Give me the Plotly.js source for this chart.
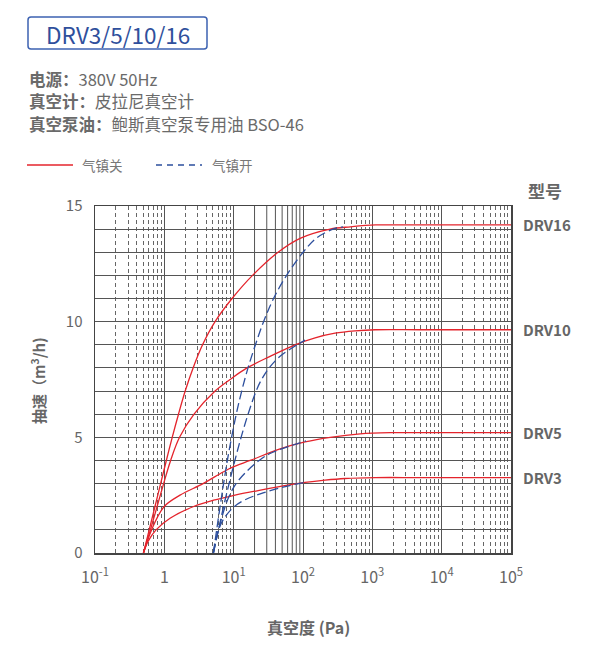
<!DOCTYPE html>
<html>
<head>
<meta charset="utf-8">
<script src="https://cdn.plot.ly/plotly-3.0.1.min.js"></script>
<style>
  html, body { margin: 0; padding: 0; background: #fff; }
  #chart { width: 614px; height: 651px; }
</style>
</head>
<body>
<div id="chart"></div>
<script>
// ---- Data ----
const models = ["DRV16", "DRV10", "DRV5", "DRV3"];

// Gas ballast closed (气镇关) – solid red   (pressure Pa, pumping speed m3/h)
const p16Closed = [0.5, 0.605, 0.732, 0.884, 1.069, 1.30, 1.60, 2.00, 2.60, 3.56, 5.39, 9.48, 18.7, 43.7, 90.8, 246, 483, 1110, 5000, 100000];
const s16Closed = [0, 1, 2, 3, 4, 5, 6, 7, 8, 9, 10, 11, 12, 13, 13.6, 14, 14.1, 14.18, 14.18, 14.18];
const p10Closed = [0.5, 0.63, 0.785, 0.977, 1.233, 1.657, 2.683, 5.39, 8.87, 15.6, 33.5, 76.9, 149.6, 290, 565, 1099, 5000, 100000];
const s10Closed = [0, 1, 2, 3, 4, 5, 6, 7, 7.5, 8, 8.5, 9, 9.3, 9.5, 9.6, 9.65, 9.65, 9.65];
const p5Closed = [0.5, 0.654, 0.99, 1.685, 3.62, 7.03, 9.48, 17.3, 46.8, 107, 247, 668, 1811, 8000, 100000];
const s5Closed = [0, 1, 2, 2.5, 3, 3.5, 3.7, 4, 4.5, 4.8, 5.0, 5.15, 5.2, 5.2, 5.2];
const p3Closed = [0.5, 0.582, 0.759, 1.209, 2.595, 5.39, 10.47, 22.5, 51.6, 107, 208, 405, 1099, 5000, 100000];
const s3Closed = [0, 0.5, 1, 1.5, 2, 2.3, 2.5, 2.7, 2.9, 3.05, 3.15, 3.22, 3.26, 3.26, 3.26];

// Gas ballast open (气镇开) – dashed blue
const p16Open = [5.1, 5.685, 6.366, 7.152, 8.11, 9.33, 10.9, 13.05, 16.1, 20.6, 27.0, 37.6, 58.0, 100.3, 154.5, 272, 379];
const s16Open = [0, 1, 2, 3, 4, 5, 6, 7, 8, 9, 10, 11, 12, 13, 13.6, 14, 14.1];
const p10Open = [5.1, 6.015, 7.152, 8.58, 10.41, 12.79, 16.13, 21.05, 25.27, 32.4, 46.7, 82.2, 107.2];
const s10Open = [0, 1, 2, 3, 4, 5, 6, 7, 7.5, 8, 8.5, 9, 9.2];
const p5Open = [5.1, 6.055, 7.515, 8.73, 10.83, 15.1, 23.3, 33.5, 61.0, 110.8];
const s5Open = [0, 1, 2, 2.5, 3, 3.5, 4, 4.3, 4.6, 4.85];
const p3Open = [5.1, 5.48, 6.055, 7.27, 10.13, 14.6, 26.6, 51.6, 103.7];
const s3Open = [0, 0.5, 1, 1.5, 2, 2.3, 2.6, 2.85, 3.05];

const plateaus = [14.18, 9.65, 5.2, 3.26];

// Axis ticks
const decadeVals = [0.1, 1, 10, 100, 1000, 10000, 100000];
const decadeText = ["10<sup>-1</sup>", "1", "10<sup>1</sup>", "10<sup>2</sup>", "10<sup>3</sup>", "10<sup>4</sup>", "10<sup>5</sup>"];
const yTickVals = [0, 5, 10, 15];

// minor grid: 2..9 multiples; solid in the 10–100 decade, dashed elsewhere
const solidMinor = [], dashedMinor = [];
for (let e = -1; e < 5; e++) {
  for (let m = 2; m <= 9; m++) {
    const v = m * Math.pow(10, e);
    if (e === 1) solidMinor.push(v); else dashedMinor.push(v);
  }
}

const RED = "#e4242c";
const BLUE = "#2d4f9d";
const GRID = "#555";
const FONT = "Noto Sans CJK SC, Noto Sans, sans-serif";

function closed(x, y) {
  return { x: x, y: y, type: "scatter", mode: "lines", showlegend: false, hoverinfo: "skip",
           line: { color: RED, width: 1.3, shape: "spline", smoothing: 1 } };
}
function opened(x, y) {
  return { x: x, y: y, type: "scatter", mode: "lines", showlegend: false, hoverinfo: "skip",
           line: { color: BLUE, width: 1.3, dash: "9px,4px", shape: "spline", smoothing: 1 } };
}

const traces = [
  closed(p16Closed, s16Closed), closed(p10Closed, s10Closed),
  closed(p5Closed, s5Closed), closed(p3Closed, s3Closed),
  opened(p16Open, s16Open), opened(p10Open, s10Open),
  opened(p5Open, s5Open), opened(p3Open, s3Open)
];

// paper-coordinate helpers for plot area (95..511 x, 206..553 y)
const PL = 95, PR = 511, PT = 206, PB = 553;
const px = v => (v - PL) / (PR - PL);
const py = v => (PB - v) / (PB - PT);

const annotations = [
  { text: "DRV3/5/10/16", x: px(117.5), y: py(33.5), xref: "paper", yref: "paper", showarrow: false,
    xanchor: "center", yanchor: "middle", font: { family: FONT, size: 22.5, color: "#2f4f9c" } },
  { text: "<b>电源：</b>380V 50Hz", x: px(27), y: py(79.5), xref: "paper", yref: "paper", showarrow: false,
    xanchor: "left", yanchor: "middle", font: { family: FONT, size: 16.5, color: "#6a6a6a" } },
  { text: "<b>真空计：</b>皮拉尼真空计", x: px(27), y: py(101), xref: "paper", yref: "paper", showarrow: false,
    xanchor: "left", yanchor: "middle", font: { family: FONT, size: 16.5, color: "#6a6a6a" } },
  { text: "<b>真空泵油：</b>鲍斯真空泵专用油 BSO-46", x: px(27), y: py(124), xref: "paper", yref: "paper", showarrow: false,
    xanchor: "left", yanchor: "middle", font: { family: FONT, size: 16.5, color: "#6a6a6a" } },
  { text: "气镇关", x: px(80), y: py(165), xref: "paper", yref: "paper", showarrow: false,
    xanchor: "left", yanchor: "middle", font: { family: FONT, size: 13.5, color: "#777" } },
  { text: "气镇开", x: px(210), y: py(165), xref: "paper", yref: "paper", showarrow: false,
    xanchor: "left", yanchor: "middle", font: { family: FONT, size: 13.5, color: "#777" } },
  { text: "<b>型号</b>", x: px(545), y: py(190), xref: "paper", yref: "paper", showarrow: false,
    xanchor: "center", yanchor: "middle", font: { family: FONT, size: 17, color: "#666" } },
  { text: "<b>抽速（m<sup>3</sup>/h)</b>", x: px(38), y: py(380), xref: "paper", yref: "paper", showarrow: false,
    textangle: -90, xanchor: "center", yanchor: "middle", font: { family: FONT, size: 15, color: "#666" } },
  { text: "<b>真空度 (Pa)</b>", x: px(308), y: py(627), xref: "paper", yref: "paper", showarrow: false,
    xanchor: "center", yanchor: "middle", font: { family: FONT, size: 16, color: "#666" } }
];
models.forEach((m, i) => {
  annotations.push({ text: "<b>" + m + "</b>", x: px(521), y: plateaus[i], xref: "paper", yref: "y",
    showarrow: false, xanchor: "left", yanchor: "middle", font: { family: FONT, size: 15, color: "#666" } });
});

// rounded title box (paper coords)
const bx0 = px(28), bx1 = px(207), by0 = py(49), by1 = py(17);
const rx = 3 / (PR - PL), ry = 3 / (PB - PT);
const boxPath = `M ${bx0 + rx} ${by1} L ${bx1 - rx} ${by1} Q ${bx1} ${by1} ${bx1} ${by1 - ry} ` +
  `L ${bx1} ${by0 + ry} Q ${bx1} ${by0} ${bx1 - rx} ${by0} L ${bx0 + rx} ${by0} ` +
  `Q ${bx0} ${by0} ${bx0} ${by0 + ry} L ${bx0} ${by1 - ry} Q ${bx0} ${by1} ${bx0 + rx} ${by1} Z`;

const shapes = [
  { type: "path", xref: "paper", yref: "paper", path: boxPath,
    line: { color: "#3d62b1", width: 1.5 }, fillcolor: "rgba(0,0,0,0)" },
  { type: "line", xref: "paper", yref: "paper", x0: px(27), x1: px(73), y0: py(165), y1: py(165),
    line: { color: RED, width: 1.3 } },
  { type: "line", xref: "paper", yref: "paper", x0: px(156), x1: px(202), y0: py(165), y1: py(165),
    line: { color: BLUE, width: 1.3, dash: "6px,5px" } }
];
// solid grid lines inside the 10–100 Pa decade
solidMinor.forEach(v => {
  shapes.push({ type: "line", xref: "x", yref: "paper", x0: v, x1: v, y0: 0, y1: 1, layer: "below",
                line: { color: GRID, width: 1 } });
});

const layout = {
  width: 614, height: 651, autosize: false,
  margin: { l: PL, r: 614 - PR, t: PT, b: 651 - PB, pad: 0 },
  paper_bgcolor: "#fff", plot_bgcolor: "#fff",
  font: { family: FONT, color: "#666" },
  showlegend: false,
  xaxis: {
    type: "log", range: [-1, 5], fixedrange: true,
    tickmode: "array", tickvals: decadeVals, ticktext: decadeText,
    ticks: "", ticklabelstandoff: 9,
    tickfont: { family: FONT, size: 16, color: "#666" },
    showgrid: true, gridcolor: GRID, gridwidth: 1,
    showline: true, mirror: true, linecolor: "#444", linewidth: 1.5,
    zeroline: false,
    minor: { tickmode: "array", tickvals: dashedMinor, ticks: "", showgrid: true,
             gridcolor: "#666", gridwidth: 1, griddash: "4px,3px" }
  },
  yaxis: {
    range: [0, 15], fixedrange: true,
    tickmode: "array", tickvals: yTickVals,
    ticks: "", ticklabelstandoff: 8,
    tickfont: { family: FONT, size: 15, color: "#666" },
    showgrid: true, gridcolor: GRID, gridwidth: 1,
    showline: true, mirror: true, linecolor: "#444", linewidth: 1.5,
    zeroline: false,
    minor: { dtick: 1, ticks: "", showgrid: true, gridcolor: GRID, gridwidth: 1 }
  },
  annotations: annotations,
  shapes: shapes
};

Plotly.newPlot("chart", traces, layout, { staticPlot: true, displayModeBar: false });
</script>
</body>
</html>
